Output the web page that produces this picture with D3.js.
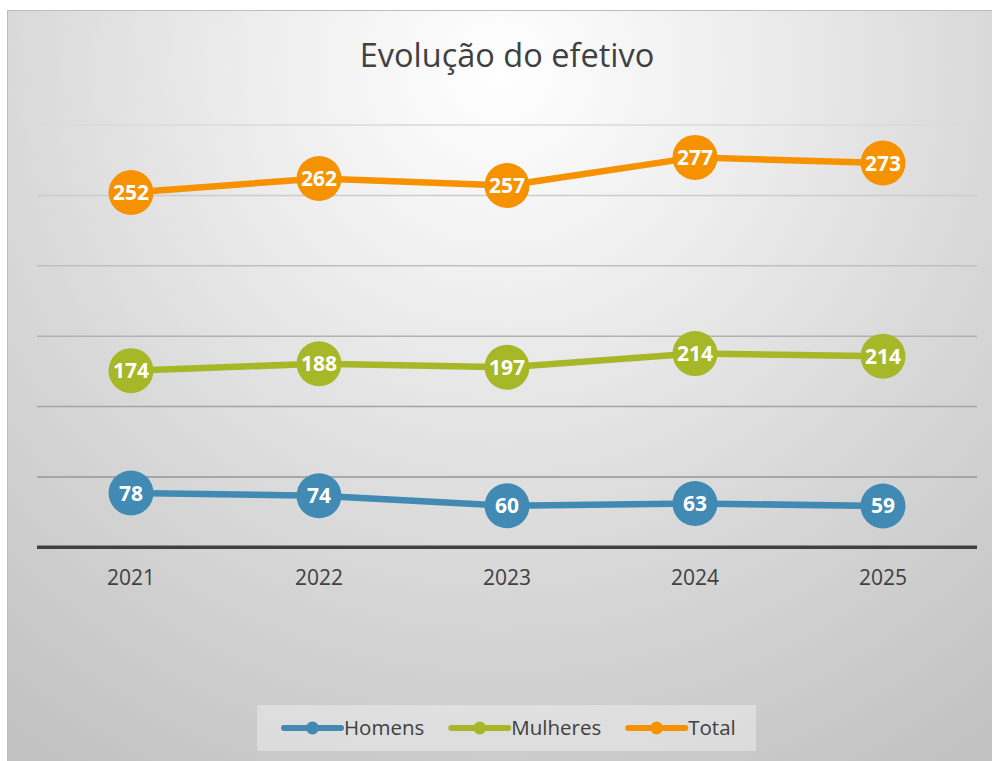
<!DOCTYPE html>
<html>
<head>
<meta charset="utf-8">
<script src="https://cdn.jsdelivr.net/npm/d3@7"></script>
<style>
  html, body { margin: 0; padding: 0; background: #fff; }
  svg { display: block; font-family: "Open Sans", sans-serif; }
</style>
</head>
<body>
<script>
// data
var anos = ["2021", "2022", "2023", "2024", "2025"];
var series = ["Homens", "Mulheres", "Total"];
// values shown in the data labels
var homens = [78, 74, 60, 63, 59];
var mulheres = [174, 188, 197, 214, 214];
var total = [252, 262, 257, 277, 273];
// where the points sit on the 0-300 axis in the picture
var homensPlot = [38.6, 36.6, 29.5, 31.1, 29.4];
var mulheresPlot = [125.5, 130.4, 127.9, 137.6, 135.7];
var totalPlot = [252, 262, 257, 277, 273];
var yTicks = [0, 50, 100, 150, 200, 250, 300];

(function(){
  var width = 992;
  var height = 761;
  var colors = { Homens: "#418AB3", Mulheres: "#A6B727", Total: "#F69200" };

  var svg = d3.select("body").append("svg")
      .attr("width", width)
      .attr("height", height);

  var defs = svg.append("defs");
  var bg = defs.append("radialGradient")
      .attr("id", "bg")
      .attr("gradientUnits", "userSpaceOnUse")
      .attr("cx", 500).attr("cy", 70).attr("r", 820);
  bg.append("stop").attr("offset", 0).attr("stop-color", "#ffffff");
  bg.append("stop").attr("offset", 0.3).attr("stop-color", "#ededed");
  bg.append("stop").attr("offset", 0.6).attr("stop-color", "#d9d9d9");
  bg.append("stop").attr("offset", 1).attr("stop-color", "#c2c2c2");

  // chart area
  svg.append("rect")
      .attr("x", 7.5).attr("y", 10.5)
      .attr("width", width + 10).attr("height", height + 10)
      .attr("fill", "url(#bg)")
      .attr("stroke", "#bdbdbd");

  svg.append("text")
      .attr("x", 507).attr("y", 67)
      .attr("text-anchor", "middle")
      .attr("font-size", 32.5)
      .attr("fill", "#404040")
      .text("Evolução do efetivo");

  var x = d3.scaleBand().domain(anos).range([37, 977]);
  var y = d3.scaleLinear().domain([0, 300]).range([547.3, 125]);
  var cx = function(d) { return x(d) + x.bandwidth() / 2; };

  var gridColor = d3.scaleLinear().domain([300, 50]).range(["#dadada", "#969696"]);
  svg.append("g").selectAll("line")
      .data(yTicks.filter(function(t){ return t > 0; }))
      .join("line")
      .attr("x1", 37).attr("x2", 977)
      .attr("y1", function(d){ return y(d); })
      .attr("y2", function(d){ return y(d); })
      .attr("stroke", function(d){ return gridColor(d); })
      .attr("stroke-width", 1.5);

  var xAxis = svg.append("g")
      .attr("transform", "translate(0," + y(0) + ")")
      .call(d3.axisBottom(x).tickSize(0).tickPadding(23));
  xAxis.select(".domain")
      .attr("stroke", "#404040")
      .attr("stroke-width", 3.5)
      .attr("d", "M37,0H977");
  xAxis.selectAll("text")
      .attr("font-family", "Open Sans, sans-serif")
      .attr("font-size", 21)
      .attr("fill", "#404040");

  var rows = [
    { name: "Homens", plot: homensPlot, labels: homens },
    { name: "Mulheres", plot: mulheresPlot, labels: mulheres },
    { name: "Total", plot: totalPlot, labels: total }
  ];

  var line = d3.line()
      .x(function(d){ return cx(d.ano); })
      .y(function(d){ return y(d.v); });

  rows.forEach(function(r){
    var pts = anos.map(function(a, i){ return { ano: a, v: r.plot[i], label: r.labels[i] }; });
    var g = svg.append("g");
    g.append("path")
        .attr("d", line(pts))
        .attr("fill", "none")
        .attr("stroke", colors[r.name])
        .attr("stroke-width", 6.5)
        .attr("stroke-linejoin", "round");
    g.selectAll("circle")
        .data(pts)
        .join("circle")
        .attr("cx", function(d){ return cx(d.ano); })
        .attr("cy", function(d){ return y(d.v); })
        .attr("r", 22.5)
        .attr("fill", colors[r.name]);
    g.selectAll("text")
        .data(pts)
        .join("text")
        .attr("x", function(d){ return cx(d.ano); })
        .attr("y", function(d){ return y(d.v); })
        .attr("dy", "0.36em")
        .attr("text-anchor", "middle")
        .attr("font-size", 21)
        .attr("font-weight", "bold")
        .attr("fill", "#ffffff")
        .text(function(d){ return d.label; });
  });

  // legend
  var legend = svg.append("g");
  legend.append("rect")
      .attr("x", 257).attr("y", 705)
      .attr("width", 499).attr("height", 46)
      .attr("fill", "#ffffff")
      .attr("fill-opacity", 0.35);
  var lx = 284;
  series.forEach(function(s){
    legend.append("line")
        .attr("x1", lx).attr("x2", lx + 57)
        .attr("y1", 728).attr("y2", 728)
        .attr("stroke", colors[s])
        .attr("stroke-width", 6)
        .attr("stroke-linecap", "round");
    legend.append("circle")
        .attr("cx", lx + 28.5).attr("cy", 728)
        .attr("r", 6.5)
        .attr("fill", colors[s]);
    var t = legend.append("text")
        .attr("x", lx + 60).attr("y", 735)
        .attr("font-size", 20.5)
        .attr("fill", "#404040")
        .text(s);
    lx = lx + 60 + t.node().getComputedTextLength() + 27;
  });
})();
</script>
</body>
</html>
